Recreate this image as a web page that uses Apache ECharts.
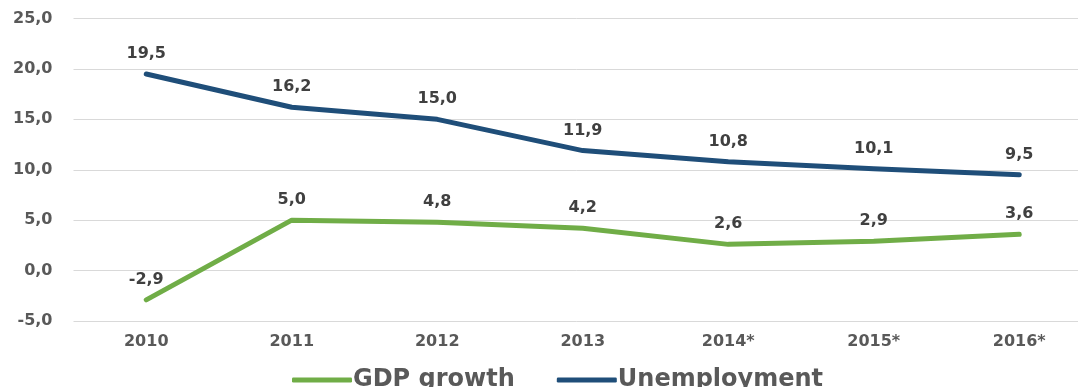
<!DOCTYPE html>
<html>
<head>
<meta charset="utf-8">
<script src="https://cdn.jsdelivr.net/npm/echarts@6/dist/echarts.min.js"></script>
<style>
  html, body { margin: 0; padding: 0; background: #fff; }
  #chart { width: 1078px; height: 387px; }
</style>
</head>
<body>
<div id="chart"></div>
<script>
// Years on the category axis
const years = ['2010', '2011', '2012', '2013', '2014*', '2015*', '2016*'];
// Annual GDP growth, %
const gdpGrowth = [-2.9, 5.0, 4.8, 4.2, 2.6, 2.9, 3.6];
// Unemployment rate, %
const unemployment = [19.5, 16.2, 15.0, 11.9, 10.8, 10.1, 9.5];

const fmt = v => Number(v).toFixed(1).replace('.', ',');
const FONT = 'DejaVu Sans';

const chart = echarts.init(document.getElementById('chart'));

const labelStyle = {
  show: true,
  position: 'top',
  distance: 12,
  fontFamily: FONT,
  fontWeight: 'bold',
  fontSize: 16,
  color: '#404040',
  formatter: p => fmt(p.value)
};

chart.setOption({
  animation: false,
  // the plot runs past the right edge of the canvas
  grid: { left: 73.5, width: 1018.5, top: 18.5, bottom: 66, containLabel: false, outerBoundsMode: 'none' },
  legend: {
    bottom: -10,
    left: 287,
    itemWidth: 60,
    itemHeight: 5,
    itemGap: 42,
    icon: 'roundRect',
    textStyle: { fontFamily: FONT, fontWeight: 'bold', fontSize: 24, color: '#595959', padding: [0, 0, 0, -4] },
    data: ['GDP growth', 'Unemployment']
  },
  xAxis: {
    type: 'category',
    data: years,
    boundaryGap: true,
    axisLine: { show: false },
    axisTick: { show: false },
    axisLabel: { fontFamily: FONT, fontWeight: 'bold', fontSize: 16, color: '#595959', margin: 13 }
  },
  yAxis: {
    type: 'value',
    min: -5,
    max: 25,
    interval: 5,
    axisLine: { show: false },
    axisTick: { show: false },
    splitLine: { lineStyle: { color: '#d9d9d9', width: 1 } },
    axisLabel: { fontFamily: FONT, fontWeight: 'bold', fontSize: 16, color: '#595959', margin: 21, formatter: fmt }
  },
  series: [
    {
      name: 'GDP growth',
      type: 'line',
      data: gdpGrowth,
      symbol: 'circle',
      symbolSize: 0.1,
      showSymbol: true,
      itemStyle: { color: '#70AD47' },
      lineStyle: { width: 5, color: '#70AD47', cap: 'round', join: 'round' },
      label: labelStyle
    },
    {
      name: 'Unemployment',
      type: 'line',
      data: unemployment,
      symbol: 'circle',
      symbolSize: 0.1,
      showSymbol: true,
      itemStyle: { color: '#1F4E79' },
      lineStyle: { width: 5, color: '#1F4E79', cap: 'round', join: 'round' },
      label: labelStyle
    }
  ]
});
</script>
</body>
</html>
